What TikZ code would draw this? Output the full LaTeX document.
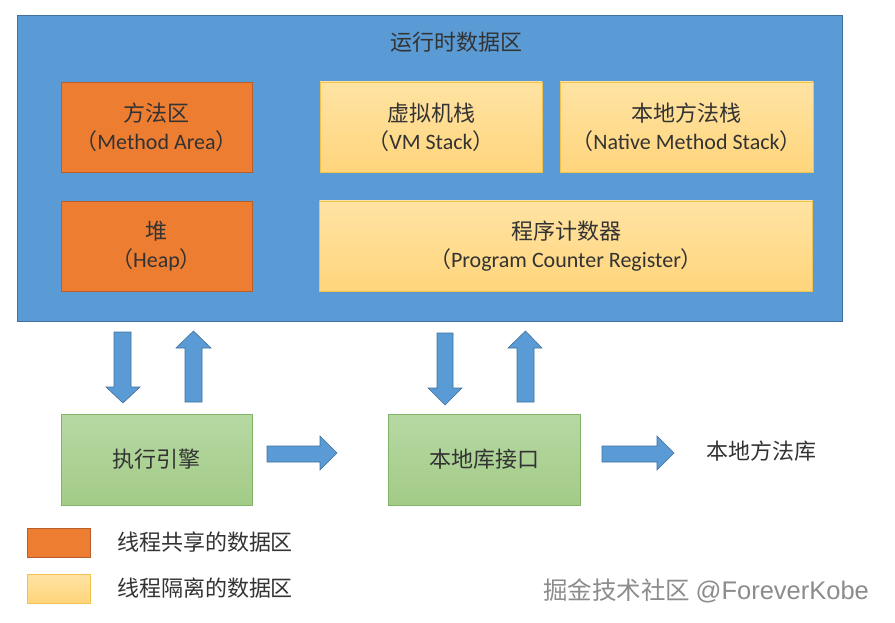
\documentclass[tikz,border=0pt]{standalone}
\usepackage{fontspec}
\setmainfont{Carlito}
\newfontfamily\cjk{Noto Sans CJK SC}
\newfontfamily\wmfont{Liberation Sans}
\newcommand{\zh}[1]{{\cjk #1}}
\definecolor{blueA}{HTML}{5B9BD5}
\definecolor{blueB}{HTML}{41719C}
\definecolor{orangeA}{HTML}{ED7D31}
\definecolor{orangeB}{HTML}{B9602A}
\definecolor{yelTop}{HTML}{FFE3A3}
\definecolor{yelBot}{HTML}{FFD57C}
\definecolor{yelB}{HTML}{F2C24E}
\definecolor{grnTop}{HTML}{B6D9A3}
\definecolor{grnBot}{HTML}{A3CB87}
\definecolor{grnB}{HTML}{82B366}
\definecolor{txt}{HTML}{333333}
\begin{document}
\begin{tikzpicture}[x=1pt,y=-1pt,
  every node/.style={inner sep=0pt,outer sep=0pt,text=txt,font=\fontsize{22}{28}\selectfont,align=center},
  area/.style={draw=blueB,fill=blueA,line width=1pt},
  shared/.style={draw=orangeB,fill=orangeA,line width=0.8pt},
  isolated/.style={draw=yelB,top color=yelTop,bottom color=yelBot,line width=0.8pt},
  unit/.style={draw=grnB,top color=grnTop,bottom color=grnBot,line width=0.8pt},
  barrow/.style={draw=blueB,fill=blueA,line width=0.6pt,line join=miter}]
\useasboundingbox (0,0) rectangle (895,623);
\fill[white] (0,0) rectangle (895,623);
% runtime data area
\node[area,minimum width=825pt,minimum height=305pt] (rt) at (429.5,168.5) {};
\node (title) at (456,42) {\zh{运行时数据区}};
\node[shared,minimum width=191pt,minimum height=90pt] (ma) at (156.5,127) {\zh{方法区}\\\zh{（}Method Area\zh{）}};
\node[shared,minimum width=191pt,minimum height=90pt] (heap) at (156.5,246) {\zh{堆}\\\zh{（}Heap\zh{）}};
\node[isolated,minimum width=222pt,minimum height=90pt] (vm) at (431,127) {\zh{虚拟机栈}\\\zh{（}VM Stack\zh{）}};
\node[isolated,minimum width=253pt,minimum height=90pt] (nms) at (686.5,127) {\zh{本地方法栈}\\\zh{（}Native Method Stack\zh{）}};
\node[isolated,minimum width=493pt,minimum height=90pt] (pc) at (566,246) {\zh{程序计数器}\\\zh{（}Program Counter Register\zh{）}};
% lower units
\node[unit,minimum width=191pt,minimum height=91pt] (eng) at (156.5,459.5) {\zh{执行引擎}};
\node[unit,minimum width=192pt,minimum height=91pt] (nif) at (484,459.5) {\zh{本地库接口}};
\node (nlib) at (761,451) {\zh{本地方法库}};
% block arrows
\draw[barrow] (114,332) -- (131,332) -- (131,387) -- (140,387) -- (123,403) -- (106,387) -- (114,387) -- cycle;
\draw[barrow] (185,402) -- (202,402) -- (202,348) -- (211,348) -- (193.5,331) -- (176,348) -- (185,348) -- cycle;
\draw[barrow] (437,333) -- (453,333) -- (453,388) -- (462,388) -- (445,405) -- (428,388) -- (437,388) -- cycle;
\draw[barrow] (517,402) -- (534,402) -- (534,348) -- (542,348) -- (525.5,331) -- (508,348) -- (517,348) -- cycle;
\draw[barrow] (267,446) -- (320,446) -- (320,436) -- (337,453) -- (320,470) -- (320,462) -- (267,462) -- cycle;
\draw[barrow] (602,446) -- (657,446) -- (657,436) -- (674,453) -- (657,470) -- (657,462) -- (602,462) -- cycle;
% legend
\node[shared,minimum width=63pt,minimum height=29pt] (lg1) at (58.5,542.5) {};
\node[isolated,minimum width=63pt,minimum height=29pt] (lg2) at (58.5,588.5) {};
\node[anchor=west] (lt1) at (117,542) {\zh{线程共享的数据区}};
\node[anchor=west] (lt2) at (117,588) {\zh{线程隔离的数据区}};
% watermark
\node[text=black!45,font=\fontsize{24.5}{28}\selectfont] (wm) at (706,591) {\zh{掘金技术社区} {\wmfont\fontsize{25.5}{28}\selectfont @ForeverKobe}};
\end{tikzpicture}
\end{document}
